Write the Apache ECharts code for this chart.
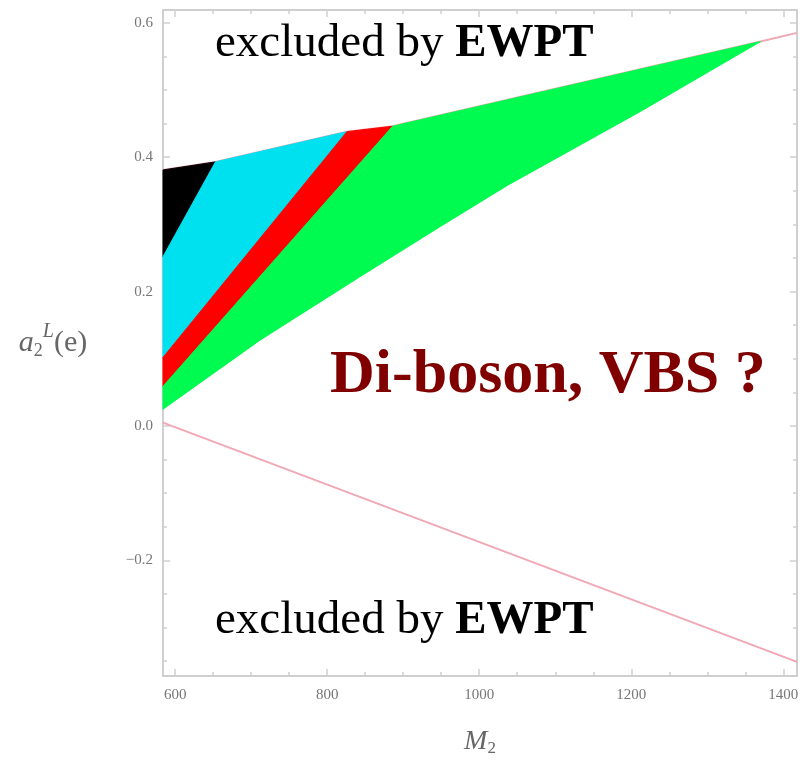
<!DOCTYPE html>
<html>
<head>
<meta charset="utf-8">
<script src="https://cdn.jsdelivr.net/npm/echarts@6/dist/echarts.min.js"></script>
<style>
  html, body { margin: 0; padding: 0; background: #fff; }
  #chart { width: 808px; height: 762px; }
</style>
</head>
<body>
<div id="chart"></div>
<script>
// axis ranges and tick labels
const xRange = [584, 1418];
const yRange = [-0.372, 0.619];
const xTickLabels = [600, 800, 1000, 1200, 1400];
const yTickLabels = [-0.2, 0.0, 0.2, 0.4, 0.6];

// EWPT boundary lines (M2, a2L)
const upperLine = [[584, 0.381], [653, 0.393], [826, 0.438], [886, 0.446], [1370, 0.572], [1418, 0.585]];
const lowerLine = [[584, 0.005], [1418, -0.351]];

// allowed regions, polygon vertices
const blackRegion = [[584, 0.381], [653, 0.393], [584, 0.252]];
const cyanRegion = [[584, 0.252], [653, 0.393], [826, 0.438], [584, 0.102]];
const redRegion = [[584, 0.102], [826, 0.438], [886, 0.446], [584, 0.059]];
const greenRegion = [[584, 0.059], [886, 0.446], [1370, 0.572],
  [1212, 0.468], [1037, 0.358], [949, 0.297], [843, 0.222], [712, 0.128], [584, 0.025]];

const chart = echarts.init(document.getElementById('chart'));

function polygonSeries(name, pts, color) {
  return {
    name: name,
    type: 'custom',
    coordinateSystem: 'cartesian2d',
    data: pts,
    z: 3,
    renderItem: function (params, api) {
      if (params.dataIndex !== 0) return null;
      return {
        type: 'polygon',
        shape: { points: pts.map(p => api.coord(p)) },
        style: { fill: color, stroke: color, lineWidth: 1 }
      };
    }
  };
}

function lineSeries(pts) {
  return {
    type: 'line',
    data: pts,
    symbol: 'none',
    z: 2,
    lineStyle: { color: '#f0a8b4', width: 2 }
  };
}

const serif = '"Liberation Serif", "DejaVu Serif", serif';
const fmtY = v => (Math.abs(v) < 1e-9 ? '0.0' : v.toFixed(1)).replace('-', '\u2212');
const fmtX = v => String(Math.round(v));

const frameColor = '#cfcfcf';
const baseAxis = {
  axisLine: { show: true, onZero: false, lineStyle: { color: frameColor, width: 2 } },
  axisTick: { show: true, inside: true, length: 7, lineStyle: { color: frameColor, width: 1.5 } },
  minorTick: { show: true, splitNumber: 4, length: 4, lineStyle: { color: frameColor, width: 1.5 } },
  splitLine: { show: false }
};

const option = {
  animation: false,
  backgroundColor: '#fff',
  grid: { left: 163, top: 10, right: 11, bottom: 84, containLabel: false },
  xAxis: [
    Object.assign({}, baseAxis, {
      type: 'value', position: 'bottom', min: xRange[0], max: xRange[1],
      axisLabel: {
        customValues: xTickLabels, formatter: fmtX, color: '#777', fontFamily: serif, fontSize: 15, margin: 12
      },
      name: '{i|M}{s|2}', nameLocation: 'middle', nameGap: 50,
      nameTextStyle: {
        rich: {
          i: { fontFamily: serif, fontStyle: 'italic', fontSize: 28, color: '#666' },
          s: { fontFamily: serif, fontSize: 17, color: '#666', verticalAlign: 'bottom', padding: [14, 0, 0, 0] }
        }
      }
    }),
    Object.assign({}, baseAxis, {
      type: 'value', position: 'top', min: xRange[0], max: xRange[1],
      axisLabel: { show: false }
    })
  ],
  yAxis: [
    Object.assign({}, baseAxis, {
      type: 'value', position: 'left', min: yRange[0], max: yRange[1],
      axisLabel: {
        customValues: yTickLabels, formatter: fmtY, color: '#777', fontFamily: serif, fontSize: 15, margin: 10
      },
      name: '{i|a}{s|2}{u|L}{n|(e)}', nameLocation: 'middle', nameGap: 110, nameRotate: 0,
      nameTextStyle: {
        align: 'center',
        rich: {
          i: { fontFamily: serif, fontStyle: 'italic', fontSize: 30, color: '#666' },
          s: { fontFamily: serif, fontSize: 18, color: '#666', padding: [16, 0, 0, 0] },
          u: { fontFamily: serif, fontStyle: 'italic', fontSize: 20, color: '#666', padding: [0, 0, 22, 0] },
          n: { fontFamily: serif, fontSize: 30, color: '#666' }
        }
      }
    }),
    Object.assign({}, baseAxis, {
      type: 'value', position: 'right', min: yRange[0], max: yRange[1],
      axisLabel: { show: false }
    })
  ],
  series: [
    lineSeries(upperLine),
    lineSeries(lowerLine),
    polygonSeries('black', blackRegion, '#000000'),
    polygonSeries('cyan', cyanRegion, '#00e1f0'),
    polygonSeries('red', redRegion, '#ff0000'),
    polygonSeries('green', greenRegion, '#00fb50')
  ],
  graphic: [
    {
      type: 'text', left: 215, top: 20, z: 10,
      style: {
        text: '{r|excluded by }{b|EWPT}',
        rich: {
          r: { fontFamily: serif, fontSize: 47, fill: '#000' },
          b: { fontFamily: serif, fontSize: 47, fontWeight: 'bold', fill: '#000' }
        }
      }
    },
    {
      type: 'text', left: 215, top: 597, z: 10,
      style: {
        text: '{r|excluded by }{b|EWPT}',
        rich: {
          r: { fontFamily: serif, fontSize: 47, fill: '#000' },
          b: { fontFamily: serif, fontSize: 47, fontWeight: 'bold', fill: '#000' }
        }
      }
    },
    {
      type: 'text', left: 330, top: 345, z: 10,
      style: {
        text: 'Di-boson, VBS ?',
        font: 'bold 62px "Liberation Serif", serif',
        fill: '#800000'
      }
    }
  ]
};

chart.setOption(option);
</script>
</body>
</html>
